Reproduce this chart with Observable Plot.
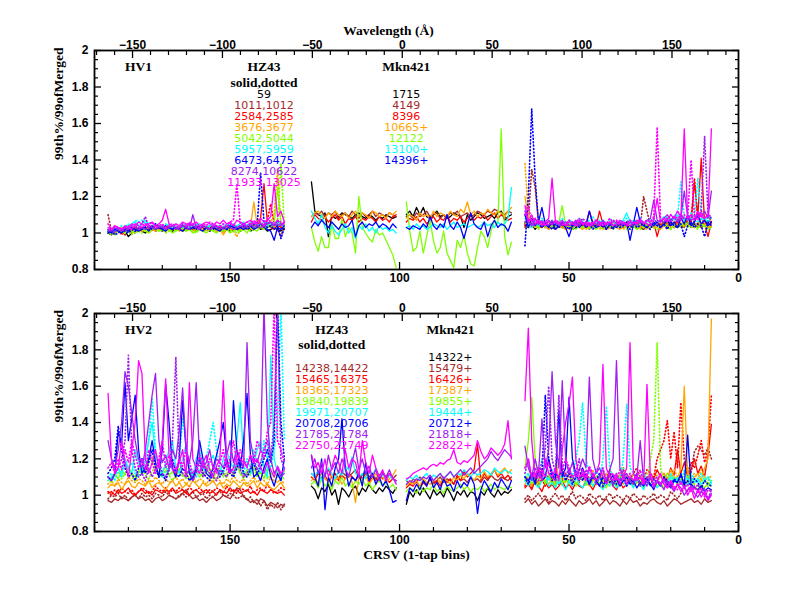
<!DOCTYPE html>
<html><head><meta charset="utf-8">
<script src="https://cdn.jsdelivr.net/npm/d3@7"></script>
<script src="https://cdn.jsdelivr.net/npm/@observablehq/plot@0.6"></script>
<style>
body{margin:0;background:#fff;}
#chart{width:792px;height:612px;}
#chart svg{display:block;overflow:visible;}
</style></head><body><div id="chart"></div>
<script>
// ---- values: (ratio - 1) * 100 per CRSV bin; "|" marks groups of ten for readability ----
// first CRSV bin of each detector segment (bins then decrease by 1)
const segmentFirstBins = [186, 126, 98, 63];

const colorNames = ["black","brown","red","orange","green","cyan","blue","purple","magenta"];
const colorValues = ["#000000","#a52a2a","#ff0000","#ffa500","#7fff00","#00ffff","#0000ff","#a020f0","#ff00ff"];

// ----- top panel (HV1 / HZ43 / Mkn421) -----
const top_black = [
"0 -1 1 2 0 1 -2 0 1 2 | 1 0 2 3 1 2 1 3 2 1 | 2 3 1 2 3 2 1 2 3 2 | 1 2 3 2 1 2 1 3 2 1 | 2 3 1 2 4 2 3 1 2 3 | 2 1 3",
"28 12 10 9 11 -2 10 8 9 11 | 10 9 8 10 11 9 8 10 9 7 | 9 8 10 9 8 9",
"10 12 9 14 10 14 9 8 10 12 | 9 10 8 9 11 10 9 3 10 7 | 9 11 10 8 9 10 8 11 12 7 | 9 10",
"4 3 5 2 4 3 5 4 3 2 | 4 3 5 4 2 3 4 5 3 4 | 3 5 4 3 2 4 3 5 4 3 | 4 3 5 4 3 2 4 3 5 4 | 3 5 4 6 3 5 4 3 6 4 | 5 3 4 6 5 4"];
const top_brown = [
"1 0 2 1 3 2 1 2 3 2 | 3 2 4 3 2 3 4 2 3 4 | 3 2 3 4 3 2 3 4 3 2 | 3 4 2 3 2 3 4 3 2 3 | 4 3 2 4 3 5 4 3 4 5 | 3 4 2",
"9 11 10 12 9 11 10 12 8 10 | 11 9 12 10 8 11 9 10 12 9 | 11 10 9 11 10 9",
"9 10 8 11 9 10 12 9 10 11 | 8 10 9 11 10 12 9 10 11 9 | 10 12 11 10 12 11 13 12 11 10 | 12 11",
"3 5 4 6 3 5 4 2 4 5 | 3 4 2 5 3 4 5 3 4 2 | 4 3 5 4 3 5 4 3 4 5 | 3 4 5 3 4 2 5 4 3 5 | 4 6 3 5 4 3 5 4 6 3 | 4 5 3 4 5 4"];
const top_red = [
"2 1 0 2 1 3 2 1 3 2 | 2 3 2 4 3 2 3 2 4 3 | 3 2 4 3 2 3 4 2 3 2 | 3 2 3 4 2 3 2 1 3 2 | 4 3 2 5 3 8 27 6 3 2 | 5 3 4",
"6 10 8 7 9 6 8 10 7 9 | 5 8 7 9 6 8 7 9 8 6 | 9 7 8 6 9 10",
"6 8 7 9 6 8 5 7 9 6 | 8 7 10 6 8 7 9 6 8 10 | 7 9 8 10 7 9 11 8 10 9 | 7 8",
"5 6 4 7 5 3 6 4 5 3 | 4 6 5 3 4 5 6 4 5 12 | 6 4 12 5 3 4 6 5 4 3 | 5 4 3 6 4 5 3 4 6 -2 | 5 4 6 5 3 7 5 4 8 6 | 28 9 41 5 -2 6"];
const top_orange = [
"1 2 0 1 3 2 1 0 2 1 | 2 1 3 2 1 2 3 1 2 3 | 2 1 2 3 2 1 2 3 4 2 | 3 2 1 2 -1 2 3 2 3 2 | 3 4 3 17 4 3 5 4 6 3 | 5 4 3",
"9 11 12 10 8 11 9 12 10 9 | 11 8 10 12 9 11 10 8 12 11 | 9 10 8 11 10 12",
"8 10 9 7 11 9 10 8 12 9 | 11 10 9 12 10 9 13 11 17 10 | 12 9 11 10 13 11 10 12 11 9 | 12 14",
"20 8 4 6 3 5 4 2 3 5 | 4 3 2 4 3 5 3 2 4 3 | 5 3 4 2 3 5 4 3 2 4 | 3 5 4 2 3 4 5 3 4 3 | 2 4 5 3 4 5 3 6 4 5 | 3 6 4 5 3 4"];
const top_green = [
"0 1 -1 2 1 0 2 1 0 1 | 2 1 0 2 3 1 2 1 2 0 | 1 2 3 1 2 0 1 2 1 0 | 2 1 0 2 1 2 0 1 2 1 | 2 0 3 2 1 4 2 3 5 4 | 25 6 3",
"3 -5 -10 -2 -8 -8 5 -3 -3 8 | -2 3 0 -11 20 3 0 -3 -5 2 | -1 0 -4 -8 -12 -19",
"17 1 -10 -8 1 -11 -2 7 -4 -11 | -8 1 -11 -15 -19 -4 -8 -1 -11 -17 | -18 -8 1 -2 -8 1 7 5 57 -2 | -12 -5",
"6 4 8 5 3 6 4 5 3 4 | 6 15 4 3 5 2 4 3 5 4 | 3 2 4 5 3 4 2 5 3 4 | 5 3 4 2 5 3 4 3 5 4 | 3 5 4 2 5 3 4 6 3 5 | 4 3 5 4 2 3"];
const top_cyan = [
"1 2 1 3 2 4 3 5 6 4 | 5 7 4 3 5 4 3 4 5 3 | 4 3 5 4 3 4 5 3 4 3 | 4 5 3 4 3 5 4 3 4 5 | 6 4 5 3 4 5 4 6 5 4 | 6 5 4",
"12 8 5 10 3 0 4 1 -1 2 | 5 0 3 -3 4 2 5 1 3 0 | 4 2 3 1 2 0",
"3 4 2 5 3 4 2 3 5 4 | 3 5 2 4 6 3 4 5 3 4 | 5 3 4 6 4 5 3 6 4 5 | 8 25",
"8 5 3 6 4 7 5 4 6 5 | 4 7 5 6 4 5 8 6 5 4 | 6 5 7 4 6 5 4 6 5 7 | 11 6 5 4 7 5 6 8 5 6 | 7 9 6 8 7 10 8 7 9 8 | 7 6 8 7 9 8"];
const top_blue = [
"1 0 2 1 0 2 1 3 2 1 | 2 3 1 4 2 3 2 1 3 2 | 3 2 1 3 2 3 4 2 1 3 | 2 3 2 1 3 2 4 3 2 3 | 2 3 4 2 3 5 3 2 1 -4 | 3 2 4",
"3 6 4 7 5 3 6 4 2 5 | 3 4 7 -2 4 6 3 5 4 6 | 3 5 4 2 5 3",
"3 2 4 3 2 5 3 9 4 2 | 5 3 10 4 2 6 3 -3 4 11 | 5 3 2 6 -2 4 7 3 5 4 | 1 6",
"10 3 8 4 6 14 5 3 6 2 | 4 5 3 -2 4 6 3 5 4 12 | 5 3 4 6 2 5 4 3 5 4 | 6 -4 5 14 6 4 3 5 4 6 | 3 5 7 4 6 3 8 5 10 4 | 6 10 5 7 4 6"];
const top_purple = [
"2 1 3 2 1 3 2 4 3 2 | 3 2 4 3 2 4 3 2 3 4 | 2 3 4 3 2 10 3 2 4 3 | 2 3 4 2 3 4 3 2 3 4 | 3 4 5 3 4 3 4 5 6 4 | 5 4 6",
null, null,
"12 6 4 8 5 6 4 7 5 6 | 4 5 6 4 5 7 4 6 5 4 | 6 5 4 7 5 6 4 5 6 5 | 4 6 5 7 6 5 7 8 18 7 | 6 8 10 7 9 6 8 23 9 7 | 8 10 9 12 8 23"];
const top_magenta = [
"3 2 4 3 2 4 3 5 4 6 | 5 4 5 6 4 5 7 13 5 4 | 5 4 6 5 4 5 6 4 5 6 | 5 4 6 5 7 5 6 4 7 6 | 5 6 7 5 6 8 6 7 9 27 | 9 12 6",
null, null,
"15 6 10 5 7 4 6 8 30 6 | 5 7 4 6 5 4 7 5 6 4 | 5 7 6 4 5 6 4 5 7 6 | 5 4 6 5 7 6 5 4 7 19 | 6 8 7 10 8 12 9 57 8 10 | 7 12 9 8 10 57"];

const top_brown_dot = ["10 1 0 2 1 -1 2 1 0 2 | 1 3 2 1 3 2 4 3 2 3 | 2 4 3 2 3 4 2 3 2 3 | 4 3 2 3 4 2 3 4 3 2 | 3 2 4 3 5 3 2 4 6 3 | 2 -2 4", null, null,
"5 8 35 25 6 4 5 3 6 4 | 5 3 4 6 3 5 4 6 3 5 | 4 6 3 5 4 3 5 4 6 5 | 3 4 6 5 3 20 12 4 5 6 | 4 5 7 4 6 5 4 6 5 7 | 6 4 8 5 7 6"];
const top_red_dot = ["2 0 1 2 -1 1 2 1 3 2 | 1 2 3 4 2 3 2 4 3 2 | 3 2 4 3 5 3 4 2 3 4 | 2 3 4 3 2 4 3 5 3 2 | 4 3 6 4 3 5 4 7 16 5 | 4 3 2", null, null,
"4 6 3 5 4 7 3 5 6 4 | 5 3 6 4 5 3 4 6 5 3 | 5 4 6 3 5 4 6 5 3 4 | 6 5 3 4 6 5 4 3 5 6 | 4 7 5 6 8 5 10 7 9 6 | 30 8 12 7 10 6"];
const top_orange_dot = ["0 1 -1 2 0 1 2 0 1 2 | 1 2 0 2 3 1 2 3 1 2 | 2 3 1 2 3 2 1 3 2 1 | 2 3 1 2 0 3 2 1 -2 2 | 3 2 3 4 3 5 4 3 6 10 | 35 4 3", null, null,
"38 10 5 3 6 4 5 3 4 2 | 5 3 4 2 3 5 4 3 2 4 | 3 5 2 4 3 2 4 5 3 2 | 4 3 5 2 4 3 2 4 3 5 | 3 4 2 5 3 4 6 3 5 4 | 3 5 4 6 3 4"];
const top_green_dot = ["1 -1 0 1 2 0 1 -1 2 1 | 0 2 1 3 2 1 2 0 1 2 | 1 2 3 1 2 1 0 2 1 2 | 3 1 2 1 2 3 1 2 0 1 | 2 3 1 2 4 3 2 5 3 4 | 6 38 4", null, null,
"6 3 5 4 2 6 3 5 4 3 | 5 4 3 6 2 4 5 3 4 2 | 5 3 4 2 5 3 4 6 3 4 | 2 5 3 4 2 3 5 4 3 2 | 4 5 3 2 4 3 5 4 6 3 | 4 2 5 3 4 5"];
const top_cyan_dot = ["2 1 3 2 4 3 5 4 7 6 | 7 5 6 4 5 3 4 5 3 4 | 5 4 3 5 4 3 4 5 4 3 | 4 5 3 4 5 4 3 5 4 3 | 5 4 6 5 4 5 6 4 5 6 | 4 5 3", null, null,
"10 6 4 7 5 8 6 4 7 5 | 6 8 5 7 6 4 8 6 5 7 | 9 6 5 7 4 8 6 5 7 6 | 8 5 7 6 9 5 7 6 8 5 | 7 6 9 7 10 8 28 9 7 11 | 8 30 10 8 6 9"];
const top_blue_dot = ["0 1 -1 0 2 1 0 2 1 3 | 2 4 3 2 5 3 2 4 3 2 | 3 2 4 3 2 3 2 4 3 2 | 3 2 4 2 3 2 3 4 2 3 | 4 2 3 5 4 33 6 3 4 2 | 4 -3 3", null, null,
"-7 20 68 30 5 3 6 4 2 5 | 3 6 4 2 5 3 4 6 3 5 | 2 4 6 3 5 4 2 6 3 4 | 5 2 6 3 4 5 3 2 6 4 | 3 5 2 6 4 3 5 -2 4 6 | 3 5 4 -2 6 4"];
const top_purple_dot = ["1 2 0 3 2 1 3 2 4 3 | 5 9 3 4 2 3 4 2 3 4 | 3 2 4 3 5 4 3 2 4 3 | 2 4 3 4 2 3 5 4 3 4 | 5 3 4 6 4 5 3 6 5 4 | 7 5 4", null, null,
"6 8 5 4 7 5 6 4 7 5 | 6 4 5 7 6 4 5 8 6 5 | 4 7 5 6 4 5 7 6 4 5 | 6 7 5 4 6 5 7 6 8 5 | 7 6 8 6 9 7 10 8 7 9 | 10 8 12 53 10 8"];
const top_magenta_dot = ["5 2 4 3 2 3 4 2 5 4 | 3 5 4 6 3 4 5 3 4 5 | 4 3 5 4 6 5 4 3 5 4 | 6 5 4 3 5 4 6 7 27 5 | 4 6 5 7 5 6 4 8 6 5 | 7 6 5", null, null,
"10 15 6 8 5 7 4 6 5 7 | 6 5 4 7 5 6 8 5 4 6 | 5 7 4 6 5 8 6 7 5 6 | 4 7 5 6 8 5 7 6 9 58 | 7 8 6 10 8 9 7 10 8 40 | 9 7 11 8 10 9"];

// ----- bottom panel (HV2 / HZ43 / Mkn421) -----
const bot_black = [null,
"5 3 -2 4 2 6 0 3 -5 4 | 2 -1 3 5 0 4 2 6 3 1 | 4 2 5 3 1 4",
"-5 2 -1 3 0 4 1 -2 3 0 | 2 -1 4 1 -3 2 0 3 -1 2 | 1 -3 2 0 4 1 -1 3 0 2 | 1 3", null];
const bot_brown = [
"-3 -4 -2 -3 -1 -2 -3 -1 0 -2 | -1 -3 -2 -4 -2 -1 -3 -2 0 -1 | -2 -1 1 3 0 -2 -1 -3 -2 -4 | -2 -1 -3 -2 0 -1 -2 1 4 3 | -1 -2 -4 -3 -5 -2 -3 -6 -4 -5 | -7 -5 -6",
"12 10 13 9 11 14 10 12 9 13 | 11 10 12 14 9 11 13 10 12 9 | 11 13 10 12 9 11",
"8 6 9 7 10 8 6 9 7 8 | 10 7 9 8 6 10 8 9 7 10 | 8 9 7 10 8 11 9 8 10 9 | 8 10",
"-4 -2 -5 -3 -6 -4 -2 -5 -3 -4 | -6 -3 -5 -2 -4 -6 -3 -5 -4 -2 | -5 -3 -6 -4 -2 -5 -3 -4 -6 -3 | -5 -2 -4 -3 -6 -4 -5 -3 -2 -4 | -5 -3 -6 -4 -2 -3 -5 -4 -3 -2 | -4 -3 -5 -2 -4 -3"];
const bot_red = [
"1 2 0 3 1 2 4 1 0 2 | 3 1 2 0 3 2 1 3 2 4 | 1 2 3 1 0 2 3 1 2 3 | 1 2 0 3 2 1 4 2 3 1 | 2 3 1 2 0 3 2 1 3 2 | 1 2 0",
"10 8 12 9 11 7 10 12 8 11 | 9 12 10 8 11 9 12 7 10 8 | 11 9 10 7 9 8",
"4 6 5 8 4 7 5 9 6 8 | 5 10 7 9 6 11 8 13 10 12 | 14 28 8 12 9 11 14 10 12 9 | 11 8",
"4 6 3 8 5 2 7 4 6 3 | 5 8 4 6 3 7 5 4 8 6 | 3 7 5 4 6 8 5 3 7 4 | 6 9 5 7 10 6 8 12 9 14 | 10 12 8 15 11 25 12 18 10 14 | 20 12 16 10 22 39"];
const bot_orange = [
"4 6 5 7 3 6 8 5 4 7 | 6 5 8 4 6 7 5 3 6 8 | 5 7 4 6 5 8 6 4 7 5 | 6 8 5 7 4 6 5 8 6 4 | 7 5 6 8 4 7 5 6 4 3 | 5 7 4",
"8 10 6 12 9 7 11 8 10 6 | 9 12 7 -4 10 8 11 6 9 12 | 8 10 7 9 11 14",
"5 7 6 8 5 9 7 6 8 10 | 7 9 8 6 10 8 11 9 12 10 | 8 11 9 13 10 12 14 11 13 15 | 12 14",
"6 8 5 10 7 12 8 6 9 5 | 20 10 7 12 8 6 9 11 7 5 | 8 10 6 9 12 7 5 8 10 6 | 9 7 12 8 5 10 7 9 6 8 | 10 12 8 14 10 9 15 60 12 8 | 10 12 8 15 20 97"];
const bot_green = [
"8 10 12 9 14 11 16 12 10 13 | 15 12 18 21 14 10 12 16 11 13 | 10 14 12 9 15 11 13 10 12 16 | 11 9 13 15 10 12 14 11 17 12 | 10 14 12 16 11 13 9 15 12 10 | 14 11 13",
"6 8 4 9 5 7 3 8 6 10 | 5 7 4 8 6 9 5 7 3 6 | 8 5 7 4 6 3",
"2 4 3 1 5 2 4 3 6 2 | 4 1 5 3 2 4 6 3 5 2 | 4 3 5 2 4 6 3 5 4 3 | 5 4",
"15 30 54 20 8 12 6 10 8 5 | 12 7 9 6 10 5 8 12 6 9 | 5 8 10 6 4 9 7 5 8 12 | 6 9 5 7 10 4 8 6 9 5 | 7 4 8 6 10 5 7 4 6 9 | 5 3 6 4 7 5"];
const bot_cyan = [
"8 10 12 15 10 20 14 12 25 18 | 12 20 30 40 22 15 12 18 25 30 | 15 12 20 28 15 10 20 25 15 12 | 18 22 15 12 20 25 18 15 30 51 | 20 15 12 18 25 30 15 10 77 20 | 12 8 15",
"12 10 14 8 11 15 12 9 13 11 | 16 14 21 12 10 12 9 13 11 15 | 10 12 8 11 9 7",
"8 10 9 11 8 10 12 9 11 10 | 12 9 11 13 10 12 11 14 12 10 | 13 11 12 14 13 11 15 13 12 14 | 13 12",
"8 5 10 6 4 8 12 5 7 4 | 9 6 3 8 5 10 6 4 7 9 | 5 8 6 3 7 5 9 4 6 8 | 5 7 4 9 6 3 8 5 7 4 | 6 8 5 10 7 9 6 8 5 10 | 7 9 6 8 10 7"];
const bot_blue = [
"10 8 12 35 28 62 30 42 55 25 | 12 15 20 30 18 10 25 61 40 15 | 10 20 52 25 12 8 15 30 20 12 | 10 15 22 30 40 20 12 52 25 15 | 30 56 22 10 12 8 15 20 10 5 | 12 8 20",
"22 10 5 20 -8 10 5 15 20 42 | 15 5 10 8 12 5 18 8 12 6 | 10 5 8 3 -4 -3",
"-3 4 2 6 3 8 5 10 4 7 | 3 9 5 6 2 8 4 7 5 10 | 6 -10 3 8 5 2 7 4 9 6 | 3 8",
"10 8 12 6 15 8 10 20 12 8 | 47 10 15 54 20 12 8 15 10 6 | 12 8 5 10 7 12 6 9 5 8 | 10 6 8 4 7 5 9 6 3 8 | 5 10 6 4 8 7 12 5 33 6 | 4 3 5 2 4 3"];
const bot_purple = [
"30 20 15 25 40 68 60 45 30 20 | 15 25 40 55 67 30 18 22 15 25 | 20 35 59 25 18 30 62 20 15 18 | 25 14 20 18 15 22 30 18 25 20 | 15 84 30 20 18 25 105 40 20 12 | 15 10 12",
"15 20 12 18 10 22 14 18 12 20 | 15 10 18 26 14 20 12 16 10 14 | 8 12 10 14 9 8",
"6 8 7 9 8 10 9 11 8 10 | 12 9 11 13 10 12 14 11 13 15 | 12 14 16 18 20 24 21 19 22 25 | 23 21",
"27 15 10 20 12 42 15 25 68 30 | 15 63 20 12 18 10 14 20 15 65 | 20 12 15 10 8 14 20 74 15 10 | 12 8 6 10 30 8 5 10 4 8 | 6 3 8 5 2 6 4 0 3 5 | 1 -1 2 0 -2 1"];
const bot_magenta = [
"56 20 12 15 30 18 10 25 40 74 | 67 20 12 18 25 15 30 64 22 14 | 12 18 25 10 62 20 15 12 18 22 | 14 10 16 20 63 18 12 15 22 20 | 18 16 22 18 20 15 12 18 14 10 | 16 12 14",
"22 15 18 12 20 10 15 22 18 12 | 25 15 20 18 10 30 18 12 22 15 | 10 14 8 12 10 6",
"9 10 12 13 14 15 14 16 17 16 | 18 17 19 20 25 18 17 19 18 20 | 22 30 24 20 22 26 24 22 24 28 | 41 20",
"52 92 30 10 15 8 20 12 10 15 | 8 25 40 50 65 20 10 12 8 15 | 10 12 18 72 15 10 8 12 6 10 | 15 84 12 8 10 6 61 10 5 8 | 12 6 4 8 3 6 2 5 0 4 | -2 3 -1 2 -3 0"];

const bot_brown_dot = ["-2 0 -1 1 -2 0 -3 -1 0 -2 | 1 -1 0 -2 1 0 -1 2 0 -1 | -2 0 1 -1 0 2 -1 0 1 -2 | 0 -1 1 2 0 -1 1 0 -2 -1 | 0 -3 -1 -4 -2 -6 -3 -8 -5 -7 | -4 -8 -5", null, null,
"-2 0 -3 -1 1 -2 0 -4 -1 1 | -2 0 -3 -1 2 -2 0 -1 -3 1 | -1 -2 0 -3 -1 1 -2 0 -1 -3 | 0 -2 1 -1 -3 0 -2 -1 1 -2 | 0 -1 -3 2 0 -2 1 4 8 12 | 24 27 25 22 26 20"];
const bot_red_dot = ["2 0 3 1 4 2 1 3 0 2 | 4 3 1 2 5 3 2 4 1 3 | 2 4 3 1 5 2 3 4 2 1 | 3 2 4 3 1 5 2 3 1 4 | 3 2 5 1 3 4 2 6 3 1 | 2 4 3", null, null,
"5 8 4 10 6 9 5 12 7 10 | 6 9 12 8 5 10 7 12 9 6 | 10 8 12 6 9 14 8 10 12 15 | 10 8 12 15 10 8 14 12 10 20 | 25 30 41 20 35 15 51 20 12 18 | 15 22 30 18 25 55"];
const bot_orange_dot = ["6 8 5 9 7 6 10 8 7 9 | 8 6 9 7 10 8 6 9 7 8 | 10 7 9 6 8 11 7 9 8 6 | 9 7 10 8 6 9 7 11 8 7 | 9 6 8 10 7 9 8 6 10 8 | 7 9 6", null, null,
"8 10 6 12 9 15 10 8 12 7 | 10 14 8 12 10 6 9 12 8 10 | 14 8 10 12 9 7 11 8 10 12 | 9 11 8 10 7 12 9 10 8 11 | 10 8 12 9 14 10 8 12 16 10 | 12 9 14 10 8 11"];
const bot_green_dot = ["10 7 11 13 9 12 15 10 8 12 | 14 11 9 13 16 12 10 14 11 8 | 12 15 10 13 9 11 14 12 10 13 | 15 11 9 12 14 10 13 11 16 12 | 9 13 11 15 10 12 14 9 11 13 | 10 12 8", null, null,
"8 12 6 10 5 9 7 11 6 8 | 10 5 9 7 12 6 8 10 5 9 | 7 11 6 8 10 5 9 7 12 15 | 8 10 6 9 5 12 8 20 30 84 | 15 8 12 6 10 7 9 5 11 8 | 6 9 7 10 5 8"];
const bot_cyan_dot = ["10 12 8 15 12 20 15 18 12 10 | 15 20 30 53 25 15 10 12 18 15 | 12 20 42 30 15 12 10 14 18 20 | 30 40 25 15 12 20 15 12 18 15 | 12 20 15 25 18 12 30 20 15 25 | 40 105 30", null, null,
"10 12 8 15 10 20 12 8 14 10 | 6 12 8 15 10 20 30 51 20 12 | 10 15 8 20 49 15 10 12 8 20 | 50 15 12 8 10 14 6 12 8 10 | 6 9 5 12 8 10 6 14 8 12 | 9 7 12 8 10 6"];
const bot_blue_dot = ["12 15 20 38 25 15 10 12 8 15 | 20 12 18 25 15 10 12 8 14 20 | 12 10 15 12 8 10 14 20 12 10 | 8 12 15 10 14 18 12 10 15 20 | 12 10 14 18 12 15 20 25 18 30 | 105 40 20", null, null,
"10 6 12 8 15 10 55 20 8 12 | 10 15 8 12 6 10 14 8 12 6 | 10 8 12 5 9 7 11 6 8 10 | 5 9 7 12 6 8 10 5 9 7 | 6 10 8 5 9 7 11 6 8 5 | 9 7 4 8 6 5"];
const bot_purple_dot = ["10 8 12 15 20 30 77 25 15 10 | 12 8 15 10 14 20 12 10 15 30 | 76 20 12 10 15 8 12 18 10 14 | 12 10 8 14 12 10 15 12 18 14 | 10 12 15 20 14 18 25 30 20 40 | 105 20 15", null, null,
"12 20 8 15 10 18 25 60 20 12 | 55 18 10 15 8 12 20 10 14 8 | 12 6 10 15 8 12 5 10 8 14 | 6 10 8 12 5 9 7 10 6 8 | 5 9 4 7 3 6 8 4 2 5 | 3 6 2 4 -2 3"];
const bot_magenta_dot = ["15 18 12 20 14 25 18 30 22 15 | 20 14 25 18 12 20 30 15 22 18 | 14 20 16 25 18 12 15 22 18 14 | 20 16 12 18 25 14 20 30 18 25 | 20 15 22 18 30 25 20 35 40 105 | 30 25 18", null, null,
"15 20 10 12 8 14 10 18 12 8 | 10 14 20 15 10 12 8 14 10 16 | 12 8 10 14 6 10 12 8 14 10 | 6 12 8 10 14 6 9 12 8 10 | 6 9 4 8 5 3 7 4 6 2 | 5 1 4 -1 3 2"];

// ----- legend texts -----
const hz43TopList = ["59","1011,1012","2584,2585","3676,3677","5042,5044","5957,5959","6473,6475","8274,10622","11933,13025"];
const mkn421TopList = ["1715","4149","8396","10665+","12122","13100+","14396+"];
const hz43BottomList = ["","14238,14422","15465,16375","18365,17323","19840,19839","19971,20707","20708,20706","21785,21784","22750,22749"];
const mkn421BottomList = ["14322+","15479+","16426+","17387+","19855+","19444+","20712+","21818+","22822+"];

// ----- ticks -----
const yTickValues = [0.8, 1, 1.2, 1.4, 1.6, 1.8, 2];
const yMinorValues = [0.85,0.9,0.95,1.05,1.1,1.15,1.25,1.3,1.35,1.45,1.5,1.55,1.65,1.7,1.75,1.85,1.9,1.95];
const binTickValues = [150, 100, 50, 0];
const binMinorValues = [190,180,170,160,140,130,120,110,90,80,70,60,40,30,20,10];
const wavelengthTickValues = [-150, -100, -50, 0, 50, 100, 150];
const wavelengthMinorValues = [-170,-160,-140,-130,-120,-110,-90,-80,-70,-60,-40,-30,-20,-10,10,20,30,40,60,70,80,90,110,120,130,140,160,170,180];
const wavelengthZeroBin = 99.2, angstromPerBin = 1.885;
const toBin = w => wavelengthZeroBin - w / angstromPerBin;

// ---------------------------------------------------------------
const colorOf = n => colorValues[colorNames.indexOf(n)];
function toPoints(segs) {
  const pts = [];
  segs.forEach((s, k) => {
    if (!s) return;
    s.split(/\s+/).filter(t => t && t !== "|").forEach((t, i) =>
      pts.push({bin: segmentFirstBins[k] - i, v: 1 + Number(t) / 100, seg: k}));
  });
  return pts;
}

const topSeries = [
  ["black", top_black, false],
  ["brown", top_brown, false], ["brown", top_brown_dot, true],
  ["red", top_red, false], ["red", top_red_dot, true],
  ["orange", top_orange, false], ["orange", top_orange_dot, true],
  ["green", top_green, false], ["green", top_green_dot, true],
  ["cyan", top_cyan, false], ["cyan", top_cyan_dot, true],
  ["blue", top_blue, false], ["blue", top_blue_dot, true],
  ["purple", top_purple, false], ["purple", top_purple_dot, true],
  ["magenta", top_magenta, false], ["magenta", top_magenta_dot, true]
];
const bottomSeries = [
  ["black", bot_black, false],
  ["brown", bot_brown, false], ["brown", bot_brown_dot, true],
  ["red", bot_red, false], ["red", bot_red_dot, true],
  ["orange", bot_orange, false], ["orange", bot_orange_dot, true],
  ["green", bot_green, false], ["green", bot_green_dot, true],
  ["cyan", bot_cyan, false], ["cyan", bot_cyan_dot, true],
  ["blue", bot_blue, false], ["blue", bot_blue_dot, true],
  ["purple", bot_purple, false], ["purple", bot_purple_dot, true],
  ["magenta", bot_magenta, false], ["magenta", bot_magenta_dot, true]
];

const serif = "'Liberation Serif', 'DejaVu Serif', serif";
const sans = "'Liberation Sans', Arial, sans-serif";
const listFont = "'DejaVu Sans', 'Liberation Sans', sans-serif";
const rowValue = k => 1.76 - 0.0605 * k;

function axesMarks() {
  const fmtW = d => { const w = Math.round((wavelengthZeroBin - d) * angstromPerBin); return w < 0 ? "\u2212" + (-w) : String(w); };
  return [
    Plot.axisY({anchor: "left", ticks: yTickValues, tickSize: -7, tickPadding: 13, tickFormat: d => String(+d.toFixed(1)), label: null, strokeWidth: 1.3}),
    Plot.axisY({anchor: "left", ticks: yMinorValues, tickSize: -4, fill: "none", label: null, strokeWidth: 1.2}),
    Plot.axisY({anchor: "right", ticks: yTickValues, tickSize: -7, fill: "none", label: null, strokeWidth: 1.3}),
    Plot.axisY({anchor: "right", ticks: yMinorValues, tickSize: -4, fill: "none", label: null, strokeWidth: 1.2}),
    Plot.axisX({anchor: "bottom", ticks: binTickValues, tickSize: -7, tickPadding: 11, tickFormat: d => String(d), label: null, strokeWidth: 1.3}),
    Plot.axisX({anchor: "bottom", ticks: binMinorValues, tickSize: -4, fill: "none", label: null, strokeWidth: 1.2}),
    Plot.axisX({anchor: "top", ticks: wavelengthTickValues.map(toBin), tickSize: -7, tickPadding: 9, tickFormat: fmtW, label: null, strokeWidth: 1.3}),
    Plot.axisX({anchor: "top", ticks: wavelengthMinorValues.map(toBin), tickSize: -4, fill: "none", label: null, strokeWidth: 1.2}),
    Plot.frame({stroke: "black", strokeWidth: 1.8})
  ];
}

function lineMarks(series) {
  return series.map(([name, segs, dotted]) =>
    Plot.line(toPoints(segs), {x: "bin", y: "v", z: "seg", stroke: colorOf(name), clip: true,
      strokeWidth: dotted ? 1.7 : 1.3, strokeDasharray: dotted ? "0.8,2.6" : undefined}));
}

function listMarks(list, bin) {
  const rows = list.map((t, k) => ({t, k})).filter(d => d.t !== "");
  return Plot.text(rows, {x: () => bin, y: d => rowValue(d.k), text: "t", fill: d => colorValues[d.k],
    fontFamily: listFont, fontSize: 11, fontWeight: "normal"});
}

function headerMarks(items) {
  return Plot.text(items, {x: "bin", y: "v", text: "t", fill: "black", fontFamily: serif, fontSize: 13.5, fontWeight: "bold"});
}

const yTitle = Plot.text(["99th%/99ofMerged"], {text: d => d, frameAnchor: "left", rotate: -90, dx: -36, fontFamily: serif, fontSize: 13.5, fontWeight: "bold"});

const common = {width: 792, marginLeft: 94, marginRight: 54,
  x: {domain: [190, 0]}, y: {domain: [0.8, 2]}, color: {type: "identity"},
  style: {fontFamily: sans, fontSize: "12px", fontWeight: "bold", color: "black", background: "white", overflow: "visible"}};

const topPlot = Plot.plot({...common, height: 290, marginTop: 50, marginBottom: 21,
  marks: [
    ...lineMarks(topSeries),
    headerMarks([{t: "HV1", bin: 177, v: 1.91}, {t: "HZ43", bin: 140, v: 1.91}, {t: "Mkn421", bin: 98, v: 1.91}, {t: "solid,dotted", bin: 140, v: 1.823}]),
    listMarks(hz43TopList, 140),
    listMarks(mkn421TopList, 98),
    ...axesMarks(),
    Plot.text(["Wavelength (\u00c5)"], {text: d => d, frameAnchor: "top", dx: -28, dy: -25, fontFamily: serif, fontSize: 13.5, fontWeight: "bold"}),
    yTitle
  ]});

const bottomPlot = Plot.plot({...common, height: 322, marginTop: 23, marginBottom: 81,
  marks: [
    ...lineMarks(bottomSeries),
    headerMarks([{t: "HV2", bin: 177, v: 1.913}, {t: "HZ43", bin: 120, v: 1.91}, {t: "Mkn421", bin: 85, v: 1.91}, {t: "solid,dotted", bin: 120, v: 1.828}]),
    listMarks(hz43BottomList, 120),
    listMarks(mkn421BottomList, 85),
    ...axesMarks(),
    Plot.text(["CRSV (1-tap bins)"], {text: d => d, frameAnchor: "bottom", dy: 27, fontFamily: serif, fontSize: 13.5, fontWeight: "bold"}),
    yTitle
  ]});

document.getElementById("chart").append(topPlot, bottomPlot);
</script></body></html>
